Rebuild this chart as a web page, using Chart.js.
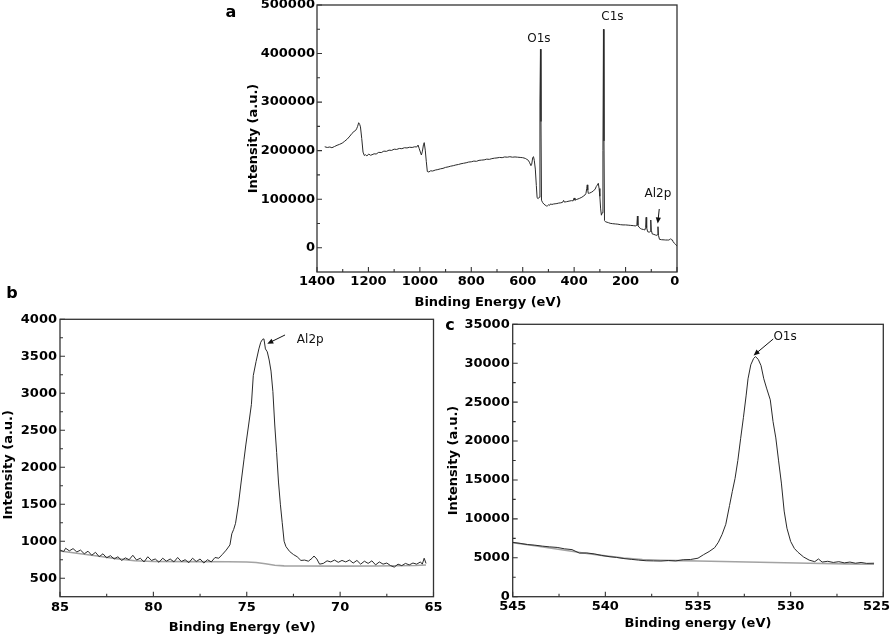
<!DOCTYPE html>
<html><head><meta charset="utf-8">
<script src="https://cdn.jsdelivr.net/npm/chart.js@4.4.1/dist/chart.umd.min.js"></script>
<style>
html,body{margin:0;padding:0;background:#fff;}
#wrap{position:relative;width:891px;height:640px;overflow:hidden;background:#fff;}
#wrap canvas{position:absolute;left:0;top:0;}
</style></head><body>
<div id="wrap">
<canvas id="ca" width="891" height="640"></canvas>
<canvas id="cb" width="891" height="640"></canvas>
<canvas id="cc" width="891" height="640"></canvas>
</div>
<script>
// ---------- Panel a: survey spectrum ----------
const energyA = [1370,1360,1350,1342,1332,1322,1312,1302,1292,1282,1272,1264,1256,1250,1246,1242,1238,1234,1231,1226,1221,1216,1211,1206,1199,1192,1186,1178,1170,1160,1150,1140,1130,1120,1110,1100,1090,1080,1070,1060,1050,1040,1030,1020,1012,1007,1003,998,994,990,986,983,979,975,971,965,958,950,940,930,920,910,900,890,880,870,860,850,840,830,820,810,800,790,780,770,760,750,740,730,720,710,700,690,680,670,660,650,640,630,620,610,600,590,584,578,573,568,565,561,558,555,551,547,544,540,536,533,531,529,527,523,518,513,508,503,499,495,491,487,481,474,467,460,452,445,441,438,430,420,410,404,400,397,390,380,370,362,358,354,351,349,347,345,340,332,325,318,314,310,306,303,300,297,294,291,288,286,284,282,278,272,266,260,250,240,230,220,210,200,190,180,170,160,156,154,152,148,143,138,130,125,122,120,118,114,108,104,102,100,96,90,84,78,76,74,72,68,60,50,45,38,32,28,25,22,18,15,10,5,0];
const intensityA = [208000,206500,207500,206000,208500,211000,213000,215500,219500,224000,230000,235500,239500,241500,245000,250000,257500,254000,249000,225000,197000,190000,191500,189000,193000,190500,191500,193500,193000,196500,196000,199000,198500,201000,200500,203000,202500,204500,204000,206000,205500,207000,206500,208000,207500,211500,205000,197000,191000,199000,212000,216500,201000,178000,157000,156000,158500,158000,160000,161000,162500,163500,165500,166500,168000,169000,170500,171500,173000,174000,175000,176500,177000,178500,178000,180000,180500,181000,182500,182000,183500,184500,185000,186000,185500,187000,186500,187500,186500,187000,186500,186000,185500,184000,182000,180000,175000,169000,172000,186000,187500,180000,162000,128000,103000,101000,104000,300000,409000,260000,98000,93500,90000,88000,86000,86500,88500,87500,90500,89000,90000,90500,91000,92000,92500,93500,97500,94000,94800,96000,97000,96500,102500,98000,99500,101500,104000,107000,108600,112000,122000,129500,119000,112000,112500,114500,117000,121000,126000,129000,132700,122000,106000,80000,67000,72000,200000,450000,220000,56000,53500,52500,51500,50300,49500,49000,48500,47500,47000,47000,46500,46000,45500,44800,47000,65300,46000,42500,40000,38500,37500,36500,42000,62600,41000,33000,32000,33500,57100,36000,28200,27500,26200,25500,26500,43300,25000,17300,16500,16200,15900,15900,15800,17000,18600,16500,16000,12400,9000,6500,3500];
const xTicksA = [1400,1200,1000,800,600,400,200,0];
const yTicksA = [0,100000,200000,300000,400000,500000];

// ---------- Panel b: Al2p ----------
const energyB = [85.0,84.8,84.7,84.5,84.3,84.1,83.9,83.7,83.5,83.3,83.1,82.9,82.7,82.5,82.3,82.1,81.9,81.7,81.5,81.3,81.1,80.9,80.7,80.5,80.3,80.1,79.9,79.7,79.5,79.3,79.1,78.9,78.7,78.5,78.3,78.1,77.9,77.7,77.5,77.3,77.1,76.9,76.7,76.5,76.3,76.1,75.9,75.8,75.7,75.6,75.45,75.3,75.15,75.05,74.9,74.75,74.65,74.5,74.35,74.25,74.15,74.08,74.0,73.9,73.8,73.7,73.6,73.5,73.4,73.3,73.2,73.1,73.0,72.9,72.7,72.5,72.3,72.1,71.9,71.7,71.5,71.4,71.25,71.1,70.9,70.7,70.5,70.3,70.1,69.9,69.7,69.5,69.3,69.1,68.9,68.7,68.5,68.3,68.1,67.9,67.7,67.5,67.3,67.1,66.9,66.7,66.5,66.3,66.1,65.9,65.7,65.6,65.5,65.4];
const intensityB = [880,860,905,870,900,855,880,830,865,810,850,790,830,775,805,760,790,740,775,750,810,745,770,720,790,740,760,715,770,730,760,720,780,725,750,710,770,725,760,705,750,720,780,770,823,880,950,1100,1160,1242,1490,1800,2100,2301,2571,2850,3240,3430,3600,3690,3730,3735,3600,3560,3450,3300,3022,2571,2200,1800,1500,1250,1000,927,860,820,790,740,745,730,770,800,760,690,700,735,720,745,715,740,720,745,705,740,690,730,700,735,680,720,690,705,670,650,690,670,700,680,705,690,720,690,770,700];
const bgEnergyB = [85.0,84.0,83.0,82.0,81.0,80.0,78.0,76.0,75.0,74.5,74.0,73.5,73.0,72.0,70.0,68.0,66.0,65.4];
const bgIntensityB = [868,835,800,765,735,726,724,723,720,712,695,675,667,664,664,665,672,678];
const xTicksB = [85,80,75,70,65];
const yTicksB = [500,1000,1500,2000,2500,3000,3500,4000];

// ---------- Panel c: O1s ----------
const energyC = [545.0,544.6,544.2,543.8,543.4,543.0,542.6,542.2,541.8,541.4,541.0,540.6,540.2,539.8,539.4,539.0,538.6,538.2,537.8,537.4,537.0,536.6,536.2,535.8,535.4,535.0,534.7,534.4,534.1,533.9,533.7,533.5,533.3,533.15,533.0,532.85,532.7,532.55,532.4,532.3,532.15,532.0,531.9,531.75,531.6,531.45,531.3,531.1,530.95,530.8,530.65,530.5,530.35,530.2,530.0,529.8,529.6,529.3,529.0,528.7,528.5,528.3,528.0,527.7,527.4,527.1,526.8,526.5,526.2,525.9,525.5];
const intensityC = [6980,6850,6700,6620,6500,6400,6330,6150,6050,5600,5620,5500,5300,5150,5050,4900,4800,4700,4620,4600,4580,4650,4600,4750,4780,4950,5400,5800,6300,7000,8000,9300,11700,13500,15200,17500,20300,23000,25900,28000,29800,30600,30850,30500,29700,28000,26800,25300,22500,20400,17450,14600,11000,8800,7100,6200,5700,5100,4700,4500,4850,4450,4550,4400,4500,4350,4450,4300,4400,4280,4300];
const bgEnergyC = [545,544,543,542,541,540,539,538,537,536,535,533,531,529,527,525.5];
const bgIntensityC = [6950,6600,6250,5900,5550,5250,4980,4780,4680,4630,4590,4500,4400,4300,4220,4170];
const xTicksC = [545,540,535,530,525];
const yTicksC = [0,5000,10000,15000,20000,25000,30000,35000];

// ---------- rendering ----------
const FAM = "'DejaVu Sans', sans-serif";
Chart.defaults.font.family = FAM;
Chart.defaults.color = '#000';
const tickFont = {family: FAM, size: 13, weight: 'bold', lineHeight: 1.2};
const titleFont = {family: FAM, size: 13, weight: 'bold', lineHeight: 1.2};

function pts(xs, ys) { return xs.map((x, i) => ({x: x, y: ys[i]})); }

function framePlugin(cfg) {
  return {
    id: 'frame_' + cfg.id,
    afterDraw(chart) {
      const ctx = chart.ctx, a = chart.chartArea, xs = chart.scales.x, ys = chart.scales.y;
      ctx.save();
      ctx.strokeStyle = '#333';
      ctx.lineWidth = 1.3;
      ctx.strokeRect(a.left, a.top, a.right - a.left, a.bottom - a.top);
      ctx.lineWidth = 1.1;
      ctx.beginPath();
      const xt = xs.ticks.map(t => t.value), yt = ys.ticks.map(t => t.value);
      xt.forEach(v => { const p = xs.getPixelForValue(v); ctx.moveTo(p, a.bottom); ctx.lineTo(p, a.bottom - 5); });
      for (let i = 0; i < xt.length - 1; i++) { const p = xs.getPixelForValue((xt[i] + xt[i + 1]) / 2); ctx.moveTo(p, a.bottom); ctx.lineTo(p, a.bottom - 3); }
      yt.forEach(v => { const p = ys.getPixelForValue(v); ctx.moveTo(a.left, p); ctx.lineTo(a.left + 5, p); });
      for (let i = 0; i < yt.length - 1; i++) { const p = ys.getPixelForValue((yt[i] + yt[i + 1]) / 2); ctx.moveTo(a.left, p); ctx.lineTo(a.left + 3, p); }
      ctx.stroke();
      // peak labels
      ctx.fillStyle = '#111';
      ctx.font = '12px ' + FAM;
      ctx.textAlign = 'center';
      ctx.textBaseline = 'middle';
      cfg.notes.forEach(n => ctx.fillText(n.text, xs.getPixelForValue(n.x), ys.getPixelForValue(n.y)));
      // arrows
      ctx.strokeStyle = '#111';
      ctx.lineWidth = 1;
      cfg.arrows.forEach(ar => {
        const x1 = xs.getPixelForValue(ar.x1), y1 = ys.getPixelForValue(ar.y1);
        const x2 = xs.getPixelForValue(ar.x2), y2 = ys.getPixelForValue(ar.y2);
        const ang = Math.atan2(y2 - y1, x2 - x1), h = 6, w = 2.6;
        ctx.beginPath(); ctx.moveTo(x1, y1); ctx.lineTo(x2 - Math.cos(ang) * 3, y2 - Math.sin(ang) * 3); ctx.stroke();
        ctx.beginPath();
        ctx.moveTo(x2, y2);
        ctx.lineTo(x2 - h * Math.cos(ang) + w * Math.sin(ang), y2 - h * Math.sin(ang) - w * Math.cos(ang));
        ctx.lineTo(x2 - h * Math.cos(ang) - w * Math.sin(ang), y2 - h * Math.sin(ang) + w * Math.cos(ang));
        ctx.closePath(); ctx.fill();
      });
      // panel letter
      ctx.fillStyle = '#000';
      ctx.font = 'bold 16px ' + FAM;
      ctx.fillText(cfg.letter, a.left + cfg.letterDx, a.top + cfg.letterDy);
      ctx.restore();
    }
  };
}

function build(cfg) {
  const sets = [{data: pts(cfg.ex, cfg.iy), borderColor: '#2a2a2a', borderWidth: 1, pointRadius: 0, order: 0}];
  if (cfg.bx) sets.push({data: pts(cfg.bx, cfg.by), borderColor: '#a3a3a3', borderWidth: 1.6, pointRadius: 0, order: 1});
  return new Chart(document.getElementById(cfg.id), {
    type: 'line',
    data: {datasets: sets},
    options: {
      responsive: false, animation: false, events: [],
      layout: {padding: {left: cfg.L - cfg.Wy, top: cfg.T, right: 891 - cfg.R, bottom: 640 - cfg.B - cfg.Hx}},
      plugins: {legend: {display: false}, tooltip: {enabled: false}},
      scales: {
        x: {
          type: 'linear', position: 'bottom', reverse: true, min: cfg.xmin, max: cfg.xmax,
          afterBuildTicks: s => { s.ticks = cfg.xt.map(v => ({value: v})); },
          afterFit: s => { s.height = cfg.Hx; s.paddingLeft = 0; s.paddingRight = 0; },
          grid: {display: false, drawTicks: false, tickLength: 0}, border: {display: false},
          ticks: {font: tickFont, color: '#000', padding: cfg.xpad, maxRotation: 0, minRotation: 0, autoSkip: false, callback: cfg.xcb},
          title: {display: true, text: cfg.xtitle, font: titleFont, color: '#000', padding: 0}
        },
        y: {
          type: 'linear', position: 'left', min: cfg.ymin, max: cfg.ymax,
          afterBuildTicks: s => { s.ticks = cfg.yt.map(v => ({value: v})); },
          afterFit: s => { s.width = cfg.Wy; s.paddingTop = 0; s.paddingBottom = 0; },
          grid: {display: false, drawTicks: false, tickLength: 0}, border: {display: false},
          ticks: {font: tickFont, color: '#000', padding: cfg.ypad, autoSkip: false, callback: v => String(v)},
          title: {display: true, text: cfg.ytitle, font: titleFont, color: '#000', padding: 0}
        }
      }
    },
    plugins: [framePlugin(cfg)]
  });
}

build({
  id: 'ca', ex: energyA, iy: intensityA, xt: xTicksA, yt: yTicksA,
  xmin: 0, xmax: 1400, ymin: -50000, ymax: 500000,
  L: 317, T: 5, R: 677, B: 272, Wy: 70.8, Hx: 38.8, xpad: 2, ypad: 2,
  xcb: v => (v === 0 ? '0 ' : String(v)),
  xtitle: 'Binding Energy (eV)    ', ytitle: 'Intensity (a.u.)',
  notes: [{text: 'O1s', x: 537, y: 430000}, {text: 'C1s', x: 251, y: 475000}, {text: 'Al2p', x: 74, y: 110700}],
  arrows: [{x1: 69, y1: 79800, x2: 75, y2: 50000}],
  letter: 'a', letterDx: -86, letterDy: 8
});
build({
  id: 'cb', ex: energyB, iy: intensityB, bx: bgEnergyB, by: bgIntensityB, xt: xTicksB, yt: yTicksB,
  xmin: 65, xmax: 85, ymin: 250, ymax: 4000,
  L: 60, T: 319.3, R: 433.5, B: 596.7, Wy: 58.8, Hx: 38.6, xpad: 3.5, ypad: 3,
  xcb: v => String(v),
  xtitle: 'Binding Energy (eV)  ', ytitle: 'Intensity (a.u.)   ',
  notes: [{text: 'Al2p', x: 71.6, y: 3720}],
  arrows: [{x1: 72.95, y1: 3788, x2: 73.9, y2: 3670}],
  letter: 'b', letterDx: -48, letterDy: -25
});
build({
  id: 'cc', ex: energyC, iy: intensityC, bx: bgEnergyC, by: bgIntensityC, xt: xTicksC, yt: yTicksC,
  xmin: 525, xmax: 545, ymin: 0, ymax: 35000,
  L: 512.7, T: 324.3, R: 883.3, B: 596.7, Wy: 66.5, Hx: 35.1, xpad: 2, ypad: 3,
  xcb: v => (v === 525 ? '525   ' : String(v)),
  xtitle: 'Binding energy (eV)', ytitle: 'Intensity (a.u.)',
  notes: [{text: 'O1s', x: 530.3, y: 33370}],
  arrows: [{x1: 530.94, y1: 33110, x2: 532.0, y2: 31000}],
  letter: 'c', letterDx: -62.7, letterDy: 2
});
</script>
</body></html>
